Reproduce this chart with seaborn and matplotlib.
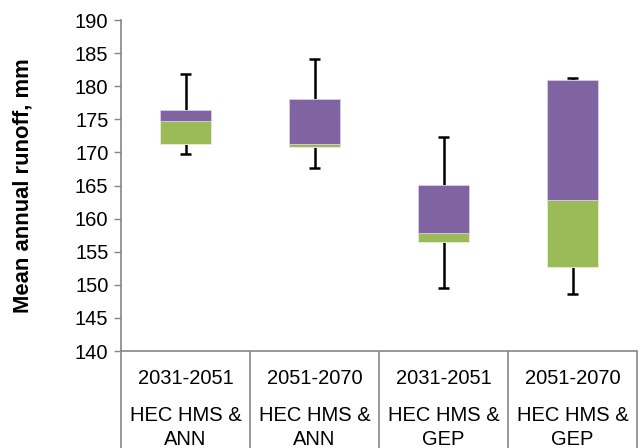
import matplotlib
matplotlib.use("Agg")
import matplotlib.pyplot as plt
import matplotlib.transforms as mtransforms
import seaborn as sns
import numpy as np
import pandas as pd

# ---- data ----
periods = ["2031-2051", "2051-2070", "2031-2051", "2051-2070"]
models = ["HEC HMS &\nANN", "HEC HMS &\nANN", "HEC HMS &\nGEP", "HEC HMS &\nGEP"]
whisker_low = [169.8, 167.6, 149.5, 148.6]
q1 = [171.2, 170.8, 156.5, 152.7]
median = [174.7, 171.3, 157.9, 162.8]
q3 = [176.4, 178.1, 165.1, 181.0]
whisker_high = [181.8, 184.1, 172.4, 181.3]
yticks = [140, 145, 150, 155, 160, 165, 170, 175, 180, 185, 190]

GREEN = "#9BBB59"
PURPLE = "#8064A2"
AXIS = "#868686"

sns.set_theme(style="white")
plt.rcParams["font.family"] = ["Liberation Sans", "DejaVu Sans"]

cats = [f"c{i}" for i in range(len(periods))]
df = pd.DataFrame({
    "cat": cats,
    "q1": q1,
    "lower": np.array(median) - np.array(q1),
    "median": median,
    "upper": np.array(q3) - np.array(median),
})

fig = plt.figure(figsize=(6.42, 4.48), dpi=100)
ax = fig.add_axes([121 / 642, 1 - 351 / 448, (637 - 121) / 642, (351 - 20) / 448])

sns.barplot(data=df, x="cat", y="lower", bottom=df["q1"].values, color=GREEN,
            saturation=1, width=0.4, edgecolor="#E8F0D8", linewidth=0.6, ax=ax, zorder=2)
sns.barplot(data=df, x="cat", y="upper", bottom=df["median"].values, color=PURPLE,
            saturation=1, width=0.4, edgecolor="#D8CCE6", linewidth=0.6, ax=ax, zorder=2)

pos = np.arange(len(cats))
cap = 0.045
wkw = dict(colors="black", linewidth=1.8, zorder=1)
ax.vlines(pos, whisker_low, q1, **wkw)
ax.vlines(pos, q3, whisker_high, **wkw)
ax.hlines(whisker_low, pos - cap, pos + cap, **wkw)
ax.hlines(whisker_high, pos - cap, pos + cap, **wkw)

ax.set_ylim(140, 190)
ax.set_xlim(-0.5, len(cats) - 0.5)
ax.set_yticks(yticks)
ax.set_yticklabels([str(t) for t in yticks], fontsize=14.5, color="black")
ax.set_xticks([])
ax.set_xlabel("")
ax.set_ylabel("Mean annual runoff, mm", fontsize=15.8, fontweight="bold",
              color="black", labelpad=30)
ax.tick_params(axis="y", left=True, length=5, width=1, color=AXIS, pad=4)

for s in ["top", "right"]:
    ax.spines[s].set_visible(False)
for s in ["left", "bottom"]:
    ax.spines[s].set_color(AXIS)
    ax.spines[s].set_linewidth(1.2)

# multi-level category axis (Excel style)
trans = mtransforms.blended_transform_factory(ax.transData, ax.transAxes)
bottom_ax = -(448 - 351) / 331 - 0.01
for b in np.arange(-0.5, len(cats), 1.0):
    ax.plot([b, b], [0, bottom_ax], transform=trans, color=AXIS, lw=1.2,
            clip_on=False, solid_capstyle="butt")
for i in range(len(cats)):
    ax.text(pos[i], -(378 - 351) / 331, periods[i], transform=trans,
            ha="center", va="center", fontsize=14.5, color="black")
    ax.text(pos[i], -(415 - 351) / 331, models[i].split("\n")[0], transform=trans,
            ha="center", va="center", fontsize=14.5, color="black")
    ax.text(pos[i], -(439 - 351) / 331, models[i].split("\n")[1], transform=trans,
            ha="center", va="center", fontsize=14.5, color="black")

fig.savefig("out.png", dpi=100)
